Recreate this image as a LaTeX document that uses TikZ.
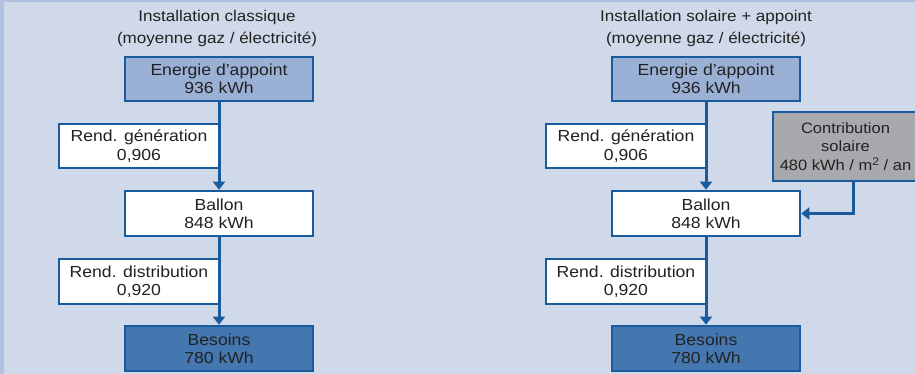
\documentclass[tikz,border=0pt]{standalone}
\usepackage{fontspec}
\setmainfont{Liberation Sans}[FakeStretch=1.1]
\usetikzlibrary{arrows.meta}
\definecolor{bgc}{HTML}{D0D9EA}
\definecolor{stripc}{HTML}{AFC1DF}
\definecolor{bord}{HTML}{1A5B9E}
\definecolor{fillE}{HTML}{9AB0D5}
\definecolor{fillS}{HTML}{4477B0}
\definecolor{fillC}{HTML}{A7A9AC}
\definecolor{txt}{HTML}{222222}
\tikzset{
  box/.style={draw=bord, line width=2.6pt, rectangle, align=center, text=txt,
    font=\fontsize{16}{18.3}\selectfont, inner sep=0pt},
  bigbox/.style={box, minimum width=188pt, minimum height=44pt},
  rendbox/.style={box, fill=white, minimum width=160pt, minimum height=44pt},
  title/.style={align=center, text=txt, font=\fontsize{15.5}{22}\selectfont, inner sep=0pt},
  arr/.style={draw=bord, line width=3pt, -{Triangle[width=12pt,length=8pt]}}
}
\begin{document}
\begin{tikzpicture}[x=1pt,y=-1pt]
\useasboundingbox (0,0) rectangle (915,374);
\begin{scope}
\clip (0,0) rectangle (915,374);
\fill[bgc] (0,0) rectangle (915,374);
\fill[stripc] (0,0) rectangle (4,374);
\fill[stripc] (0,0) rectangle (915,2);

% left panel
\node[title] (T1) at (217,28) {Installation classique\\(moyenne gaz / électricité)};
\node[bigbox, fill=fillE] (E1) at (219,79) {Energie d’appoint\\936 kWh};
\node[rendbox] (G1) at (139,146) {Rend. génération\\0,906};
\node[bigbox, fill=white, minimum height=45pt] (B1) at (219,213.5) {Ballon\\848 kWh};
\node[rendbox, minimum height=45pt] (D1) at (139,281.5) {Rend. distribution\\0,920};
\node[bigbox, fill=fillS, minimum height=45pt] (S1) at (219,348.5) {Besoins\\780 kWh};
\draw[arr] (E1.south) -- (B1.north);
\draw[arr] (B1.south) -- (S1.north);

% right panel
\node[title] (T2) at (706,28) {Installation solaire + appoint\\(moyenne gaz / électricité)};
\node[bigbox, fill=fillE] (E2) at (706,79) {Energie d’appoint\\936 kWh};
\node[rendbox] (G2) at (626,146) {Rend. génération\\0,906};
\node[bigbox, fill=white, minimum height=45pt] (B2) at (706,213.5) {Ballon\\848 kWh};
\node[rendbox, minimum height=45pt] (D2) at (626,281.5) {Rend. distribution\\0,920};
\node[bigbox, fill=fillS, minimum height=45pt] (S2) at (706,348.5) {Besoins\\780 kWh};
\node[box, fill=fillC, minimum width=145pt, minimum height=69pt,
  font=\fontsize{15}{18.5}\selectfont] (C2) at (845.5,146.5)
  {Contribution\\solaire\\480 kWh / m\raisebox{5pt}{\fontsize{11}{11}\selectfont 2} / an};
\draw[arr] (E2.south) -- (B2.north);
\draw[arr] (B2.south) -- (S2.north);
\draw[arr] ([xshift=7.5pt]C2.south) |- (B2.east);
\end{scope}
\end{tikzpicture}
\end{document}
